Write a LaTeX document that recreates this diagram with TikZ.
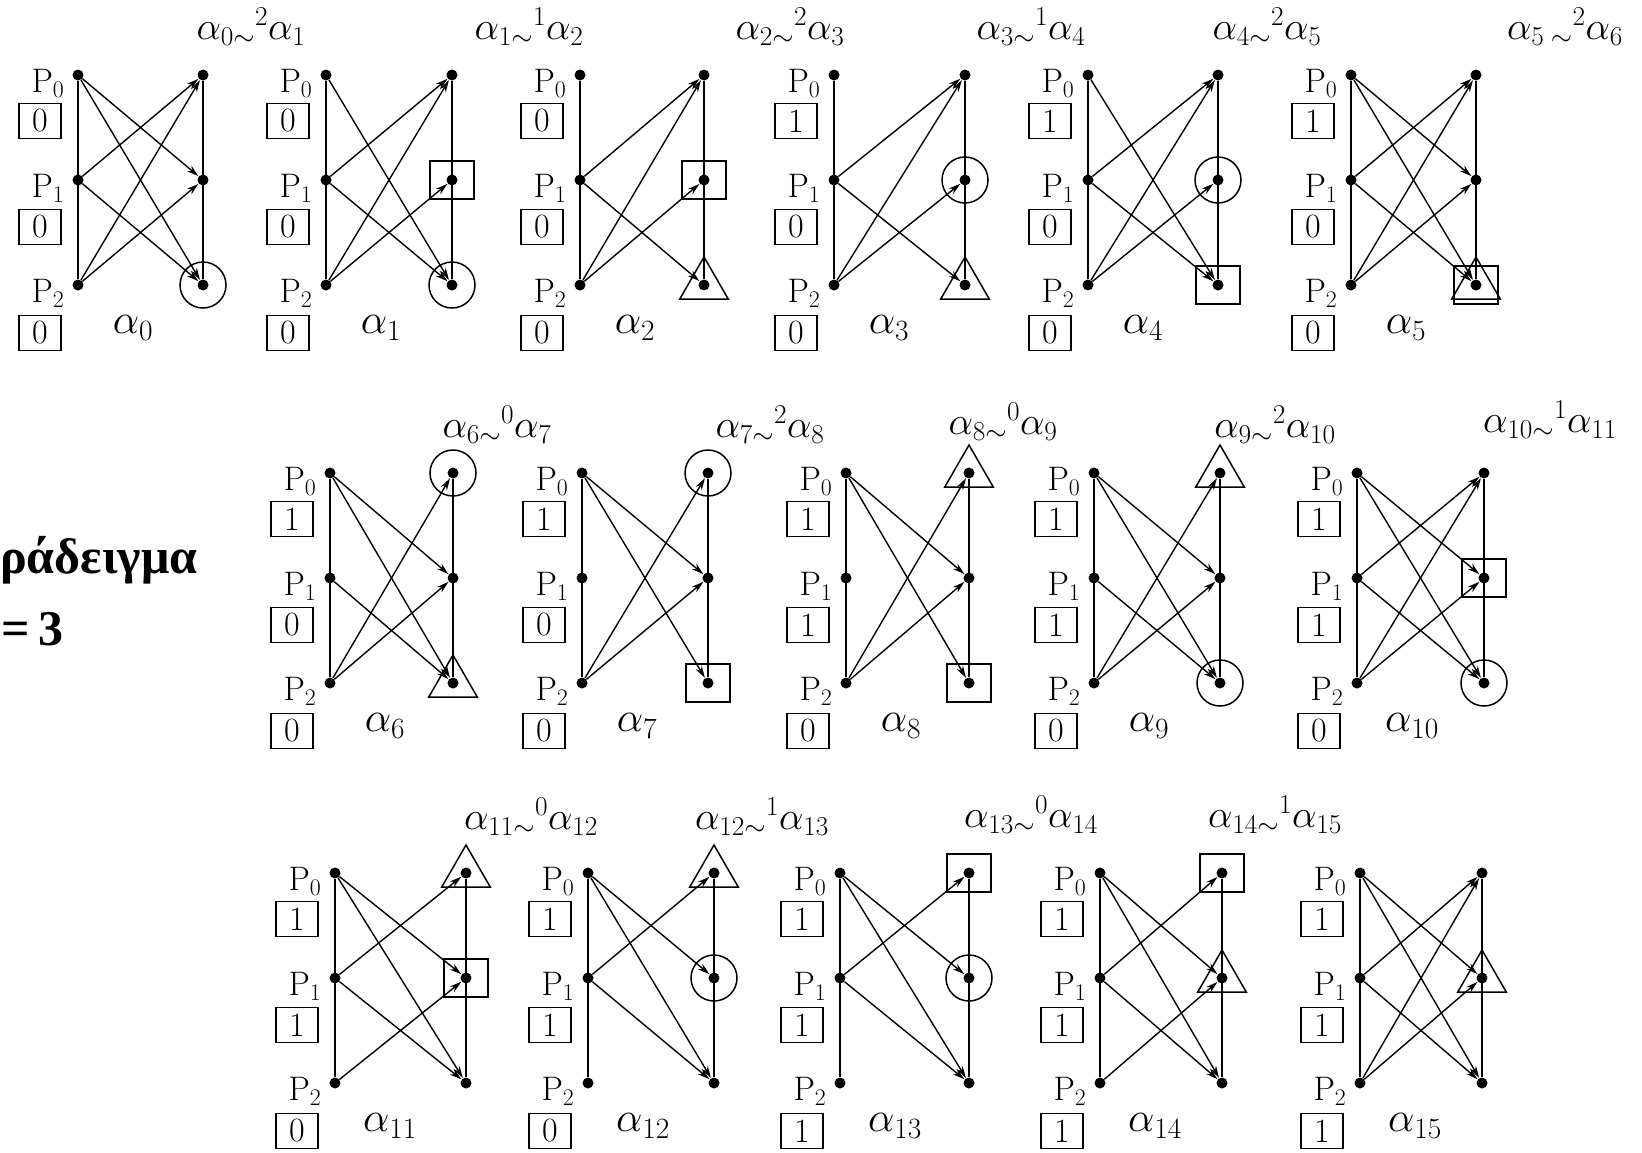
\RequirePackage{fix-cm}
\documentclass[tikz,border=0pt]{standalone}
\usepackage{fontspec}
\newfontfamily\grfont{Liberation Serif}
\usetikzlibrary{arrows.meta,shapes.geometric}
\tikzset{
 dot/.style={circle,fill=black,inner sep=0pt,minimum size=11pt},
 vline/.style={line width=1.8pt},
 arr/.style={line width=1.4pt,-{Stealth[length=12pt,width=7pt]},shorten >=0.3pt},
 valbox/.style={draw,line width=1.4pt,minimum width=42pt,minimum height=35pt,inner sep=0pt,font=\fontsize{34}{34}\selectfont},
 plab/.style={inner sep=0pt,font=\fontsize{34}{34}\selectfont},
 alab/.style={inner sep=0pt,font=\fontsize{42}{42}\selectfont},
 ttl/.style={inner sep=0pt,font=\fontsize{39}{39}\selectfont},
 mcirc/.style={draw,circle,line width=1.5pt,minimum size=46pt,inner sep=0pt},
 msq/.style={draw,rectangle,line width=1.5pt,minimum width=44pt,minimum height=38pt,inner sep=0pt},
 mtri/.style={draw,regular polygon,regular polygon sides=3,line width=1.5pt,minimum size=56pt,inner sep=0pt},
 grk/.style={anchor=base west,inner sep=0pt,font=\grfont\bfseries\fontsize{50}{50}\selectfont},
}
\newcommand{\dgm}[7]{%
 \foreach \i/\yy in {0/0,1/105,2/210}{%
  \node[dot] (d#1L\i) at (#2,#4+\yy) {};
  \node[dot] (d#1R\i) at (#3,#4+\yy) {};
 }
 \draw[vline] (d#1L0) -- (d#1L2);
 \draw[vline] (d#1R0) -- (d#1R2);
 \node[plab] (d#1P0) at (#2-30,#4+8) {$\mathrm{P}_{0}$};
 \node[plab] (d#1P1) at (#2-30,#4+113) {$\mathrm{P}_{1}$};
 \node[plab] (d#1P2) at (#2-30,#4+218) {$\mathrm{P}_{2}$};
 \node[valbox] (d#1B0) at (#2-38,#4+46) {#5};
 \node[valbox] (d#1B1) at (#2-38,#4+152) {#6};
 \node[valbox] (d#1B2) at (#2-38,#4+258) {#7};
 \node[alab] (d#1A) at (#2+55,#4+253) {$\alpha_{#1}$};
}
\newcommand{\edg}[2]{\foreach \a/\b in {#2}{\draw[arr] (d#1L\a) -- (d#1R\b);}}
\newcommand{\mk}[3]{\node[#3] (d#1M#2#3) at (d#1R#2) {};}
\begin{document}
\begin{tikzpicture}[x=1pt,y=-1pt]
\useasboundingbox[fill=white] (0,0) rectangle (1642,1152);
% row 1
\dgm{0}{78}{203}{75}{0}{0}{0}
\dgm{1}{326}{452}{75}{0}{0}{0}
\dgm{2}{580}{704}{75}{0}{0}{0}
\dgm{3}{834}{965}{75}{1}{0}{0}
\dgm{4}{1088}{1218}{75}{1}{0}{0}
\dgm{5}{1351}{1476}{75}{1}{0}{0}
% row 2
\dgm{6}{330}{453}{473}{1}{0}{0}
\dgm{7}{582}{708}{473}{1}{0}{0}
\dgm{8}{846}{969}{473}{1}{1}{0}
\dgm{9}{1094}{1220}{473}{1}{1}{0}
\dgm{10}{1357}{1484}{473}{1}{1}{0}
% row 3
\dgm{11}{335}{466}{873}{1}{1}{0}
\dgm{12}{588}{714}{873}{1}{1}{0}
\dgm{13}{840}{969}{873}{1}{1}{1}
\dgm{14}{1100}{1222}{873}{1}{1}{1}
\dgm{15}{1360}{1482}{873}{1}{1}{1}
% edges
\edg{0}{0/1,0/2,1/0,1/2,2/0,2/1}
\edg{1}{0/2,1/0,1/2,2/0,2/1}
\edg{2}{1/0,1/2,2/0,2/1}
\edg{3}{1/0,1/2,2/0,2/1}
\edg{4}{0/2,1/0,1/2,2/0,2/1}
\edg{5}{0/1,0/2,1/0,1/2,2/0,2/1}
\edg{6}{0/1,0/2,1/2,2/0,2/1}
\edg{7}{0/1,0/2,2/0,2/1}
\edg{8}{0/1,0/2,2/0,2/1}
\edg{9}{0/1,0/2,1/2,2/0,2/1}
\edg{10}{0/1,0/2,1/0,1/2,2/0,2/1}
\edg{11}{0/1,0/2,1/0,1/2,2/1}
\edg{12}{0/1,0/2,1/0,1/2}
\edg{13}{0/1,0/2,1/0,1/2}
\edg{14}{0/1,0/2,1/0,1/2,2/1}
\edg{15}{0/1,0/2,1/0,1/2,2/0,2/1}
% marks
\mk{0}{2}{mcirc}
\mk{1}{1}{msq}\mk{1}{2}{mcirc}
\mk{2}{1}{msq}\mk{2}{2}{mtri}
\mk{3}{1}{mcirc}\mk{3}{2}{mtri}
\mk{4}{1}{mcirc}\mk{4}{2}{msq}
\mk{5}{2}{msq}\mk{5}{2}{mtri}
\mk{6}{0}{mcirc}\mk{6}{2}{mtri}
\mk{7}{0}{mcirc}\mk{7}{2}{msq}
\mk{8}{0}{mtri}\mk{8}{2}{msq}
\mk{9}{0}{mtri}\mk{9}{2}{mcirc}
\mk{10}{1}{msq}\mk{10}{2}{mcirc}
\mk{11}{0}{mtri}\mk{11}{1}{msq}
\mk{12}{0}{mtri}\mk{12}{1}{mcirc}
\mk{13}{0}{msq}\mk{13}{1}{mcirc}
\mk{14}{0}{msq}\mk{14}{1}{mtri}
\mk{15}{1}{mtri}
% titles
\node[ttl] (t0) at (251,27) {$\alpha_{0\sim}{}^{2}\alpha_{1}$};
\node[ttl] (t1) at (529,27) {$\alpha_{1\sim}{}^{1}\alpha_{2}$};
\node[ttl] (t2) at (790,27) {$\alpha_{2\sim}{}^{2}\alpha_{3}$};
\node[ttl] (t3) at (1031,27) {$\alpha_{3\sim}{}^{1}\alpha_{4}$};
\node[ttl] (t4) at (1267,27) {$\alpha_{4\sim}{}^{2}\alpha_{5}$};
\node[ttl] (t5) at (1565,27) {$\alpha_{5}\,{}_{\sim}{}^{2}\alpha_{6}$};
\node[ttl] (t6) at (497,425) {$\alpha_{6\sim}{}^{0}\alpha_{7}$};
\node[ttl] (t7) at (770,425) {$\alpha_{7\sim}{}^{2}\alpha_{8}$};
\node[ttl] (t8) at (1003,422) {$\alpha_{8\sim}{}^{0}\alpha_{9}$};
\node[ttl] (t9) at (1275,425) {$\alpha_{9\sim}{}^{2}\alpha_{10}$};
\node[ttl] (t10) at (1550,420) {$\alpha_{10\sim}{}^{1}\alpha_{11}$};
\node[ttl] (t11) at (531,817) {$\alpha_{11\sim}{}^{0}\alpha_{12}$};
\node[ttl] (t12) at (762,817) {$\alpha_{12\sim}{}^{1}\alpha_{13}$};
\node[ttl] (t13) at (1031,815) {$\alpha_{13\sim}{}^{0}\alpha_{14}$};
\node[ttl] (t14) at (1275,815) {$\alpha_{14\sim}{}^{1}\alpha_{15}$};
% left text
\node[grk] (gr1) at (0,573) {ράδειγμα};
\node[grk] (gr2) at (1,645) {=\,3};
\end{tikzpicture}
\end{document}
